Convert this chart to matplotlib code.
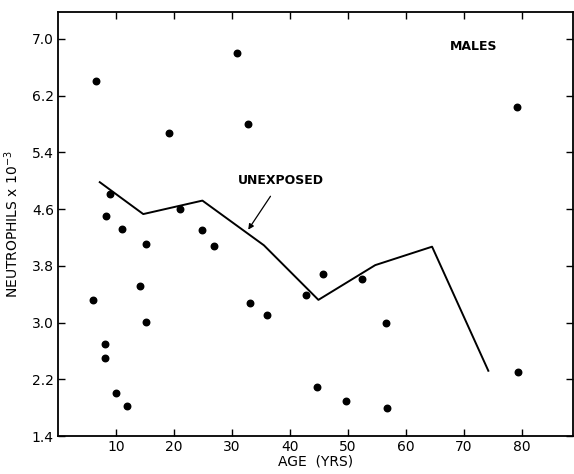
import numpy as np
import matplotlib
matplotlib.use("Agg")
import matplotlib.pyplot as plt

# individual males: age (yrs) vs neutrophils x 10^-3
age = [6.5, 30.9, 19.1, 32.8, 9.0, 8.2, 11.1, 21.0, 24.9, 15.2, 26.9, 14.1, 6.1,
       33.1, 36.0, 15.2, 8.1, 8.1, 10.0, 11.9, 42.8, 45.7, 52.5, 56.6, 44.7, 49.6,
       56.7, 79.3, 79.1]
neut = [6.41, 6.80, 5.68, 5.80, 4.81, 4.50, 4.32, 4.60, 4.31, 4.11, 4.08, 3.51, 3.32,
        3.28, 3.10, 3.01, 2.70, 2.50, 2.01, 1.83, 3.39, 3.68, 3.61, 3.00, 2.09, 1.89,
        1.79, 2.30, 6.04]

# unexposed group means
unexp_age = [7.2, 14.7, 24.9, 35.5, 44.9, 54.7, 64.5, 74.2]
unexp_neut = [4.98, 4.53, 4.72, 4.09, 3.32, 3.81, 4.07, 2.32]

xticks = [10, 20, 30, 40, 50, 60, 70, 80]
yticks = [1.4, 2.2, 3.0, 3.8, 4.6, 5.4, 6.2, 7.0]

fig = plt.figure(figsize=(5.74, 4.74), dpi=100)
ax = fig.add_axes([58/574, 38/474, 515/574, 424/474])

ax.scatter(age, neut, s=22, color="black", zorder=3)
ax.plot(unexp_age, unexp_neut, color="black", lw=1.4)

ax.set_xlim(0, 88.8)
ax.set_ylim(1.4, 7.38)
ax.set_xticks(xticks)
ax.set_yticks(yticks)
ax.set_xticklabels([str(t) for t in xticks])
ax.set_yticklabels([f"{t:.1f}" for t in yticks])
ax.tick_params(direction="in", top=True, right=True, length=5, width=1,
               labelsize=10, pad=3)
for s in ax.spines.values():
    s.set_linewidth(1.3)

ax.set_xlabel("AGE  (YRS)", fontsize=10, labelpad=0)
ax.set_ylabel(r"NEUTROPHILS x 10$^{-3}$", fontsize=10, labelpad=8)

ax.text(71.6, 6.89, "MALES", fontsize=9, fontweight="bold", ha="center", va="center")
ax.annotate("UNEXPOSED", xy=(32.8, 4.31), xytext=(38.5, 5.01),
            fontsize=9, fontweight="bold", ha="center", va="center",
            arrowprops=dict(arrowstyle="-|>", color="black", lw=0.9,
                            mutation_scale=8, shrinkA=6, shrinkB=0))

fig.savefig("out.png", dpi=100)
